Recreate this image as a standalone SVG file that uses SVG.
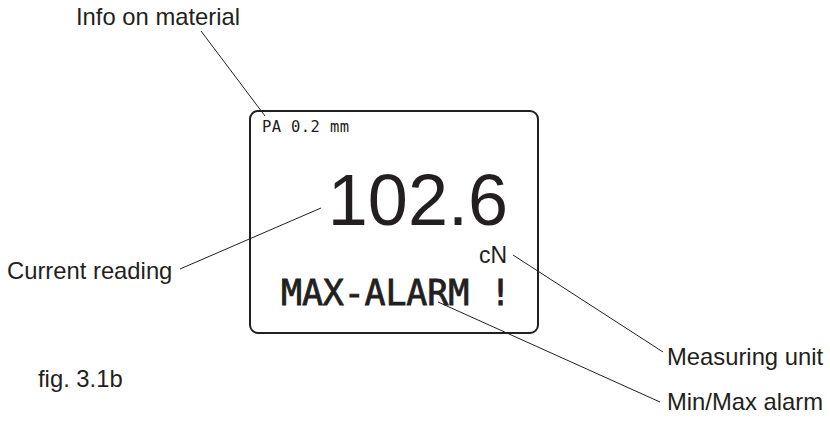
<svg xmlns="http://www.w3.org/2000/svg" width="830" height="422" viewBox="0 0 830 422">
<style>
.lbl{font-family:"Liberation Sans",Arial,sans-serif;font-size:23.8px;fill:#231f20}
.lcd{font-family:"DejaVu Sans Mono",monospace;fill:#231f20}
.big{font-family:"Liberation Sans",Arial,sans-serif;fill:#231f20}
.ln{stroke:#231f20;stroke-width:1;fill:none}
</style>
<rect width="830" height="422" fill="#fff"/>
<g id="display">
<rect x="250" y="111" width="288" height="222" rx="8" ry="8" fill="none" stroke="#231f20" stroke-width="2"/>
<text class="lcd" x="262" y="132" font-size="15.5" textLength="87" lengthAdjust="spacing">PA 0.2 mm</text>
<text class="big" x="508" y="225" font-size="72" text-anchor="end">102.6</text>
<text class="big" x="507" y="263" font-size="23" text-anchor="end">cN</text>
<text class="lcd" x="281" y="305" font-size="35" stroke="#231f20" stroke-width="0.8" textLength="230" lengthAdjust="spacing">MAX-ALARM !</text>
</g>
<g id="label-info"><text class="lbl" x="76" y="25">Info on material</text></g>
<g id="label-current"><text class="lbl" x="7" y="279">Current reading</text></g>
<g id="label-unit"><text class="lbl" x="667" y="365">Measuring unit</text></g>
<g id="label-alarm"><text class="lbl" x="667" y="410">Min/Max alarm</text></g>
<g id="caption"><text class="lbl" x="38" y="387">fig. 3.1b</text></g>
<g id="connectors">
<line class="ln" x1="201" y1="31" x2="265" y2="116"/>
<line class="ln" x1="180" y1="269" x2="321" y2="208"/>
<line class="ln" x1="513" y1="255" x2="663" y2="352"/>
<line class="ln" x1="438" y1="302" x2="660" y2="402"/>
</g>
</svg>
